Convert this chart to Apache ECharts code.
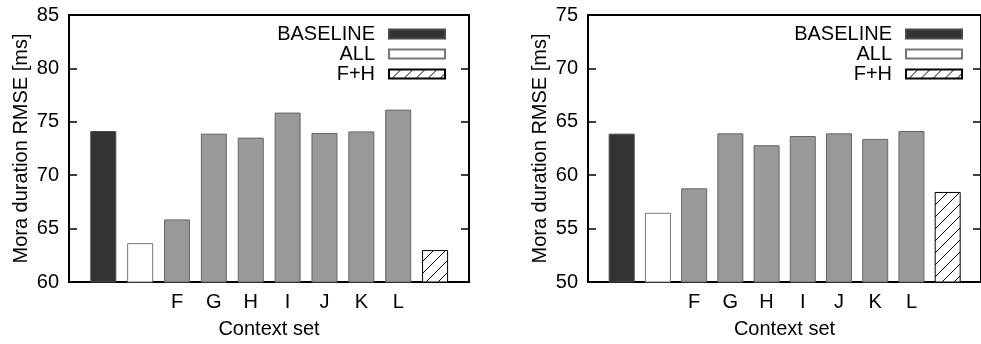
<!DOCTYPE html>
<html>
<head>
<meta charset="utf-8">
<script src="https://cdn.jsdelivr.net/npm/echarts@6/dist/echarts.min.js"></script>
<style>
  html, body { margin: 0; padding: 0; background: #fff; }
  #chart { width: 981px; height: 344px; }
</style>
</head>
<body>
<div id="chart"></div>
<script>
// one slot per bar, left to right
const xLabels = ["", "", "F", "G", "H", "I", "J", "K", "L", ""];
const barGroups = ["BASELINE", "ALL", "subset", "subset", "subset", "subset", "subset", "subset", "subset", "F+H"];
const leftValues = [74.14, 63.64, 65.86, 73.89, 73.52, 75.86, 73.95, 74.1, 76.14, 62.99];
const rightValues = [63.89, 56.48, 58.77, 63.92, 62.81, 63.67, 63.92, 63.4, 64.14, 58.43];
const legendNames = ["BASELINE", "ALL", "F+H"];

const FONT = "Liberation Sans";
const FONT_SIZE = 20;

function hatchPattern() {
  const size = 12;
  const canvas = document.createElement("canvas");
  canvas.width = size;
  canvas.height = size;
  const ctx = canvas.getContext("2d");
  ctx.fillStyle = "#fff";
  ctx.fillRect(0, 0, size, size);
  ctx.strokeStyle = "#000";
  ctx.lineWidth = 1;
  ctx.beginPath();
  ctx.moveTo(-1, size + 1);
  ctx.lineTo(size + 1, -1);
  ctx.stroke();
  return { image: canvas, repeat: "repeat" };
}

const groupStyles = {
  BASELINE: { color: "#333333", borderColor: "#4a4a4a", borderWidth: 1 },
  ALL: { color: "#ffffff", borderColor: "#777777", borderWidth: 1 },
  subset: { color: "#999999", borderColor: "#666666", borderWidth: 1 },
  "F+H": { color: hatchPattern(), borderColor: "#000000", borderWidth: 1 },
};

const chart = echarts.init(document.getElementById("chart"));

const grids = [
  { left: 69, top: 15, width: 400, height: 270 },
  { left: 588, top: 15, width: 400, height: 270 },
].map((g) => ({ ...g, show: true, borderColor: "#000", borderWidth: 2, backgroundColor: "transparent" }));

function xAxisFor(gridIndex) {
  return {
    type: "value",
    gridIndex,
    min: -0.93,
    max: 9.92,
    name: "Context set",
    nameLocation: "middle",
    nameGap: 37,
    nameTextStyle: { fontFamily: FONT, fontSize: FONT_SIZE, color: "#000" },
    axisLine: { show: false, onZero: false },
    axisTick: { show: false },
    splitLine: { show: false },
    axisLabel: {
      customValues: xLabels.map((_, i) => i),
      formatter: (v) => xLabels[Math.round(v)],
      fontFamily: FONT,
      fontSize: FONT_SIZE,
      color: "#000",
      margin: 10,
    },
  };
}

function yAxesFor(gridIndex, min, max) {
  const common = {
    type: "value",
    gridIndex,
    min,
    max,
    interval: 5,
    axisLine: { show: false, onZero: false },
    splitLine: { show: false },
    axisTick: { show: true, inside: true, length: 8, lineStyle: { color: "#000", width: 1.5 } },
  };
  return [
    {
      ...common,
      position: "left",
      name: "Mora duration RMSE [ms]",
      nameLocation: "middle",
      nameGap: 38,
      nameTextStyle: { fontFamily: FONT, fontSize: FONT_SIZE, color: "#000" },
      axisLabel: { fontFamily: FONT, fontSize: FONT_SIZE, color: "#000", margin: 10 },
    },
    { ...common, position: "right", axisLabel: { show: false } },
  ];
}

function seriesFor(gridIndex, values) {
  const names = ["BASELINE", "ALL", "subset", "F+H"];
  return names.map((name) => ({
    name,
    type: "bar",
    xAxisIndex: gridIndex,
    yAxisIndex: gridIndex * 2,
    stack: "g" + gridIndex,
    barWidth: 26,
    itemStyle: groupStyles[name],
    emphasis: { disabled: true },
    data: values
      .map((v, i) => (barGroups[i] === name ? [i, v] : null))
      .filter((d) => d !== null),
  }));
}

function legendFor(right) {
  return {
    data: legendNames,
    orient: "vertical",
    align: "right",
    icon: "rect",
    right,
    top: 19,
    itemWidth: 56,
    itemHeight: 9,
    itemGap: 0,
    selectedMode: false,
    textStyle: {
      fontFamily: FONT,
      fontSize: FONT_SIZE,
      color: "#000",
      lineHeight: 20,
      padding: [0, 9, 0, 0],
    },
  };
}

chart.setOption({
  animation: false,
  grid: grids,
  legend: [legendFor(530), legendFor(13)],
  xAxis: [xAxisFor(0), xAxisFor(1)],
  yAxis: [...yAxesFor(0, 60, 85), ...yAxesFor(1, 50, 75)],
  series: [...seriesFor(0, leftValues), ...seriesFor(1, rightValues)],
});
</script>
</body>
</html>
